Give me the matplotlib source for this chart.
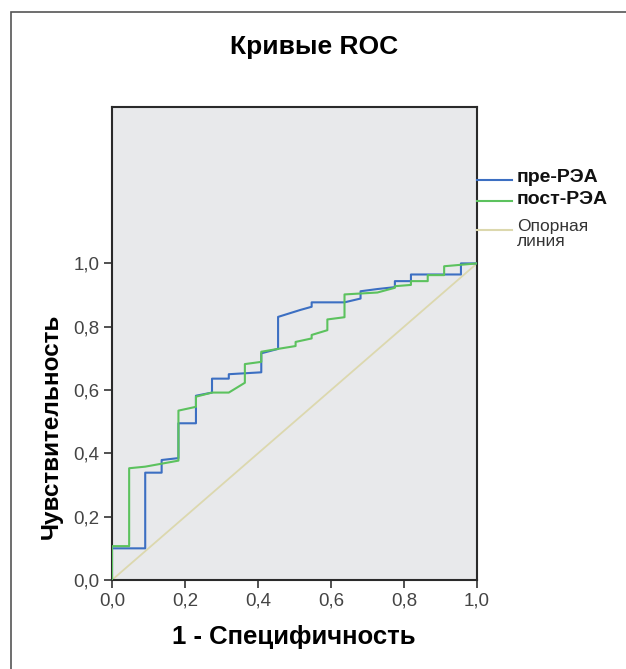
import matplotlib
matplotlib.use("Agg")
import matplotlib.pyplot as plt
from matplotlib.patches import Rectangle
from matplotlib.lines import Line2D

plt.rcParams['font.family'] = ['Liberation Sans', 'DejaVu Sans']

title = "Кривые ROC"
xlabel = "1 - Специфичность"
ylabel = "Чувствительность"
series_names = ["пре-РЭА", "пост-РЭА", "Опорная\nлиния"]
tick_values = [0.0, 0.2, 0.4, 0.6, 0.8, 1.0]
tick_labels = ["0,0", "0,2", "0,4", "0,6", "0,8", "1,0"]

pre_fpr = [0.0, 0.0, 0.091, 0.091, 0.136, 0.136, 0.182, 0.182, 0.23, 0.23, 0.274, 0.274,
           0.32, 0.32, 0.409, 0.409, 0.455, 0.455, 0.516, 0.547, 0.547, 0.637, 0.681,
           0.681, 0.727, 0.775, 0.775, 0.819, 0.819, 0.956, 0.956, 1.0]
pre_tpr = [0.0, 0.10, 0.10, 0.339, 0.339, 0.379, 0.385, 0.495, 0.495, 0.582, 0.592, 0.636,
           0.636, 0.65, 0.656, 0.716, 0.73, 0.831, 0.853, 0.863, 0.877, 0.877, 0.889,
           0.912, 0.919, 0.925, 0.944, 0.944, 0.965, 0.965, 1.0, 1.0]

post_fpr = [0.0, 0.0, 0.047, 0.047, 0.091, 0.182, 0.182, 0.23, 0.23, 0.274, 0.32, 0.364,
            0.364, 0.409, 0.409, 0.455, 0.503, 0.503, 0.547, 0.547, 0.59, 0.59, 0.637,
            0.637, 0.727, 0.775, 0.775, 0.819, 0.819, 0.865, 0.865, 0.91, 0.91, 1.0]
post_tpr = [0.0, 0.107, 0.107, 0.353, 0.358, 0.377, 0.535, 0.547, 0.579, 0.592, 0.592, 0.623,
            0.682, 0.689, 0.721, 0.73, 0.739, 0.752, 0.763, 0.774, 0.789, 0.823, 0.83,
            0.902, 0.908, 0.923, 0.928, 0.932, 0.944, 0.944, 0.963, 0.963, 0.991, 1.0]

ref_x = [0.0, 1.0]
ref_y = [0.0, 1.0]

colors = ["#3c6fc2", "#5cc25e", "#dcd8ae"]

fig = plt.figure(figsize=(6.26, 6.69), dpi=100)
W, H = 626, 669
ax = fig.add_axes([112 / W, 1 - 580 / H, 365 / W, (580 - 107) / H])
ax.set_facecolor("#e8e9eb")

ax.plot(ref_x, ref_y, color=colors[2], lw=1.3, zorder=2)
ax.plot(pre_fpr, pre_tpr, color=colors[0], lw=1.5, zorder=3)
ax.plot(post_fpr, post_tpr, color=colors[1], lw=1.5, zorder=4)

ax.set_xlim(0, 1.0)
ax.set_ylim(0, 1.494)
ax.set_xticks(tick_values)
ax.set_xticklabels(tick_labels)
ax.set_yticks(tick_values)
ax.set_yticklabels(tick_labels)
ax.tick_params(direction='out', length=6, width=1.2, color="#333333",
               labelsize=13.5, labelcolor="#444444", pad=3)
for s in ax.spines.values():
    s.set_color("#2a2a2a")
    s.set_linewidth(1.5)

fig.text(314 / W, 1 - 47 / H, title, ha='center', va='center',
         fontsize=19, fontweight='bold')
fig.text(294 / W, 1 - 637 / H, xlabel, ha='center', va='center',
         fontsize=18.5, fontweight='bold')
fig.text(51 / W, 1 - 426 / H, ylabel, ha='center', va='center', rotation=90,
         fontsize=17.5, fontweight='bold')

# legend
leg_items = [(series_names[0], colors[0], 180, 178, 'bold', 14),
             (series_names[1], colors[1], 201, 200, 'bold', 14),
             (series_names[2], colors[2], 230, 234, 'normal', 12.5)]
for name, c, ly, ty, fw, fs in leg_items:
    fig.add_artist(Line2D([477 / W, 512 / W], [1 - ly / H, 1 - ly / H],
                          color=c, lw=1.5, transform=fig.transFigure))
    fig.text(517 / W, 1 - ty / H, name, ha='left', va='center',
             fontsize=fs, fontweight=fw, color="#111111" if fw == 'bold' else "#333333",
             linespacing=1.0)

# outer frame
fig.add_artist(Rectangle((11 / W, -0.1), 1.2, 1 - 12 / H + 0.1,
                         transform=fig.transFigure, fill=False,
                         edgecolor="#555555", lw=1.2))

fig.savefig("out.png", dpi=100)
